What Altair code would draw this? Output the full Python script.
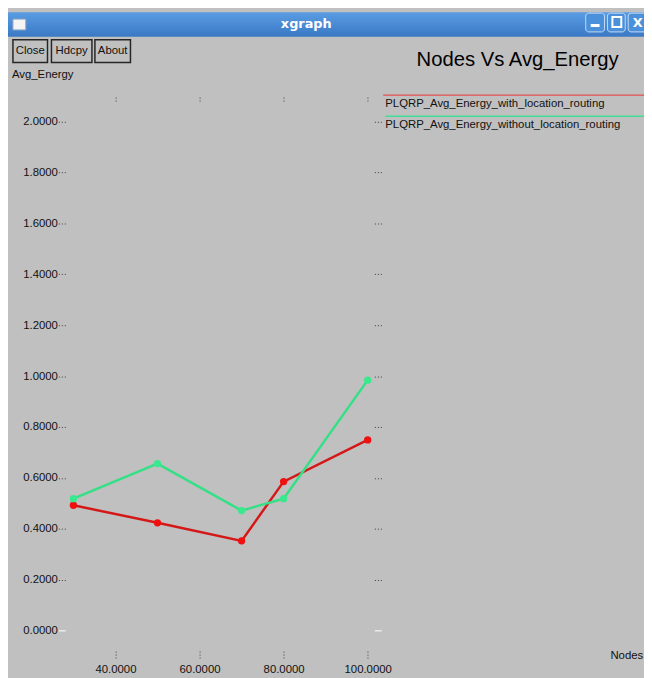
import altair as alt
import pandas as pd

# ---- data ----
nodes = [30, 50, 70, 80, 100]
energy_with = [0.492, 0.423, 0.352, 0.585, 0.749]
energy_without = [0.518, 0.656, 0.471, 0.518, 0.984]
series_names = ["PLQRP_Avg_Energy_with_location_routing",
                "PLQRP_Avg_Energy_without_location_routing"]
x_ticks = [40, 60, 80, 100]
y_ticks = [0.0, 0.2, 0.4, 0.6, 0.8, 1.0, 1.2, 1.4, 1.6, 1.8, 2.0]
title_text = "Nodes Vs Avg_Energy"
x_label = "Nodes"
y_label = "Avg_Energy"
window_title = "xgraph"
button_labels = ["Close", "Hdcpy", "About"]

FONT = "Liberation Sans"
RED_LINE = "#d41818"
RED_PT = "#f01010"
GREEN_LINE = "#33e086"
GREEN_PT = "#3ae88e"
BG = "#c0c0c0"

df_with = pd.DataFrame({"nodes": nodes, "energy": energy_with})
df_without = pd.DataFrame({"nodes": nodes, "energy": energy_without})
one = pd.DataFrame({"k": [0]})

xs = alt.Scale(domain=[28.066, 101.597], nice=False, zero=False)
ys = alt.Scale(domain=[-0.08155, 2.08155], nice=False, zero=False)

tick_color = {"condition": {"test": "datum.value === 0", "value": "#ffffff"}, "value": "#3a3a3a"}
tick_dash = {"condition": {"test": "datum.value === 0", "value": [8, 0]}, "value": [1, 2]}

axis_left = alt.Axis(orient="left", values=y_ticks, format=".4f", tickSize=7, tickWidth=1,
                     tickColor=tick_color, tickDash=tick_dash, labelPadding=1,
                     labelFont=FONT, labelFontSize=11.5, labelColor="#111111",
                     domain=False, grid=False)
axis_right = alt.Axis(orient="right", values=y_ticks, labels=False, tickSize=7, tickWidth=1,
                      tickColor=tick_color, tickDash=tick_dash, domain=False, grid=False)
axis_bottom = alt.Axis(orient="bottom", values=x_ticks, format=".4f", tickSize=7, tickWidth=1,
                       tickColor="#3a3a3a", tickDash=[1, 2], labelPadding=6,
                       labelFont=FONT, labelFontSize=11.5, labelColor="#111111",
                       domain=False, grid=False)
axis_top = alt.Axis(orient="top", values=x_ticks, labels=False, tickSize=6, tickWidth=1,
                    tickColor="#3a3a3a", tickDash=[1, 2], domain=False, grid=False)

red_line = alt.Chart(df_with).mark_line(color=RED_LINE, strokeWidth=2.5).encode(
    x=alt.X("nodes:Q", scale=xs, axis=axis_bottom, title=None),
    y=alt.Y("energy:Q", scale=ys, axis=axis_left, title=None),
)
red_pts = alt.Chart(df_with).mark_circle(color=RED_PT, size=55, opacity=1).encode(
    x=alt.X("nodes:Q", scale=xs, axis=None),
    y=alt.Y("energy:Q", scale=ys, axis=None),
)
green_line = alt.Chart(df_without).mark_line(color=GREEN_LINE, strokeWidth=2.5).encode(
    x=alt.X("nodes:Q", scale=xs, axis=axis_top, title=None),
    y=alt.Y("energy:Q", scale=ys, axis=axis_right, title=None),
)
green_pts = alt.Chart(df_without).mark_circle(color=GREEN_PT, size=55, opacity=1).encode(
    x=alt.X("nodes:Q", scale=xs, axis=None),
    y=alt.Y("energy:Q", scale=ys, axis=None),
)


def rect(x1, x2, y1, y2, **kw):
    return alt.Chart(one).mark_rect(**kw).encode(
        x=alt.value(x1), x2=alt.value(x2), y=alt.value(y1), y2=alt.value(y2))


def label(txt, x, y, **kw):
    return alt.Chart(one).mark_text(**kw).encode(
        x=alt.value(x), y=alt.value(y), text=alt.value(txt))


def hline(x1, x2, y, **kw):
    return alt.Chart(one).mark_rule(**kw).encode(
        x=alt.value(x1), x2=alt.value(x2), y=alt.value(y))


grad = alt.LinearGradient(
    gradient="linear",
    stops=[alt.GradientStop(color="#5a9de4", offset=0),
           alt.GradientStop(color="#3a78c4", offset=1)],
    x1=0, x2=0, y1=0, y2=1)

deco = [
    rect(-58, 586, -90, -65, color=grad),
    rect(-53, -40, -83, -72, fill="#f4f4f4", stroke="#8fa6c0", strokeWidth=1),
    label(window_title, 244, -78, font="DejaVu Sans", fontWeight="bold", fontSize=13,
          color="#ffffff", align="center", baseline="middle"),
]
for (a, b) in [(527, 546), (549, 567), (570, 589)]:
    deco.append(rect(a, b, -89, -70, fill="#4b90da", stroke="#c4daf2", strokeWidth=1,
                     cornerRadius=3))
deco += [
    rect(532, 541, -78, -75, fill="#ffffff"),
    rect(554, 563, -85, -75, fill="#4b90da", stroke="#ffffff", strokeWidth=2),
    label("X", 579.5, -79, font="DejaVu Sans", fontWeight="bold", fontSize=13,
          color="#ffffff", align="center", baseline="middle"),
]
for txt, (a, b) in zip(button_labels, [(-53, -18), (-14, 27), (30, 66)]):
    deco.append(rect(a, b, -62, -39, fill=BG, stroke="#262626", strokeWidth=1.5))
    deco.append(label(txt, (a + b) / 2, -50.5, font=FONT, fontSize=11.5, color="#111111",
                      align="center", baseline="middle"))
deco += [
    label(y_label, -54, -26, font=FONT, fontSize=11.5, color="#111111",
          align="left", baseline="middle"),
    label(title_text, 458, -35, font=FONT, fontSize=20.5,
          color="#000000", align="center", baseline="alphabetic"),
    hline(322, 590, -6, color="#e05050", strokeWidth=1.5),
    label(series_names[0], 324, 3.5, font=FONT, fontSize=11.5, color="#111111",
          align="left", baseline="middle"),
    hline(324, 590, 15.5, color="#44dd96", strokeWidth=1.5),
    label(series_names[1], 324, 24, font=FONT, fontSize=11.5, color="#111111",
          align="left", baseline="middle"),
    label(x_label, 552, 562, font=FONT, fontSize=11.5, color="#111111",
          align="left", baseline="middle"),
]

chart = alt.layer(red_line, red_pts, green_line, green_pts, *deco).resolve_axis(
    x="independent", y="independent"
).properties(
    width=313, height=557,
    padding={"left": 58, "top": 90, "right": 273, "bottom": 23},
    autosize=alt.AutoSizeParams(type="none"),
    background=BG,
).configure_view(strokeWidth=0)

chart.save("out.html", embed_options={"renderer": "svg", "actions": False})
